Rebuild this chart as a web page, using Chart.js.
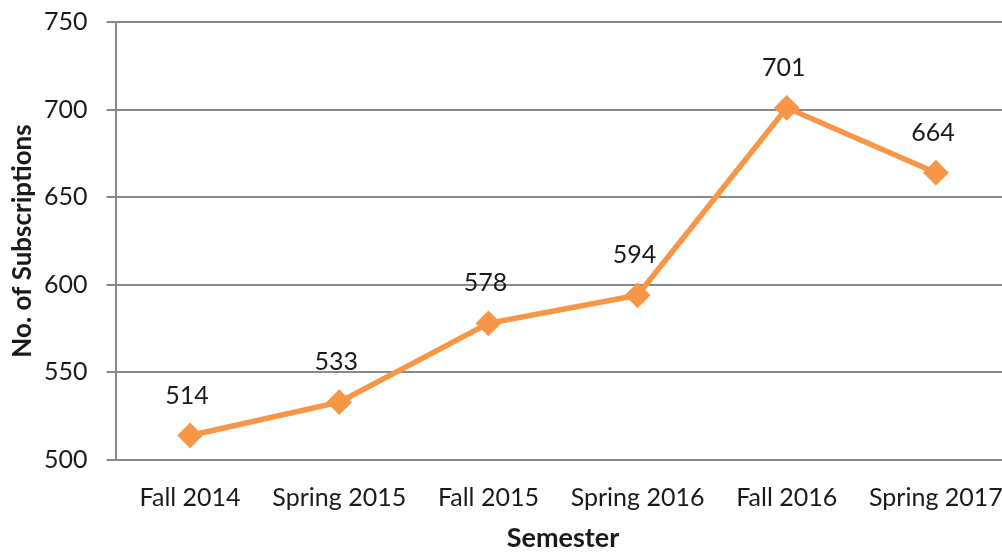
<!DOCTYPE html>
<html lang="en">
<head>
<meta charset="UTF-8">
<title>Subscriptions by Semester</title>
<style>
  html, body { margin: 0; padding: 0; overflow: hidden; background: #fff; }
  #wrap { width: 1027px; height: 552px; }
</style>
</head>
<body>
<div id="wrap"><canvas id="subsChart" width="1027" height="552"></canvas></div>
<script src="https://cdn.jsdelivr.net/npm/chart.js"></script>
<script>
  // data
  const semesters = ['Fall 2014', 'Spring 2015', 'Fall 2015', 'Spring 2016', 'Fall 2016', 'Spring 2017'];
  const subscriptions = [514, 533, 578, 594, 701, 664];
  const yTicks = [500, 550, 600, 650, 700, 750];

  const orange = '#F79646';
  const gridGray = '#898989';
  const textColor = '#1a1a1a';
  const fontFam = 'Lato, "Open Sans", sans-serif';

  // value labels above each point
  const valueLabels = {
    id: 'valueLabels',
    afterDatasetsDraw(chart) {
      const ctx = chart.ctx;
      const meta = chart.getDatasetMeta(0);
      ctx.save();
      ctx.font = '25px ' + fontFam;
      ctx.fillStyle = textColor;
      ctx.textAlign = 'center';
      ctx.textBaseline = 'middle';
      meta.data.forEach((pt, i) => {
        ctx.fillText(String(subscriptions[i]), pt.x - 3, pt.y - 40);
      });
      ctx.restore();
    }
  };

  new Chart(document.getElementById('subsChart'), {
    type: 'line',
    data: {
      labels: semesters,
      datasets: [{
        label: 'Subscriptions',
        data: subscriptions,
        borderColor: orange,
        backgroundColor: orange,
        borderWidth: 5.5,
        pointStyle: 'rectRot',
        pointRadius: 9,
        pointHoverRadius: 9,
        tension: 0
      }]
    },
    options: {
      responsive: false,
      animation: false,
      layout: { padding: { top: 0, right: 0, left: 10, bottom: 0 } },
      plugins: {
        legend: { display: false },
        tooltip: { enabled: false }
      },
      scales: {
        x: {
          offset: true,
          grid: { display: false, drawTicks: false },
          border: { display: true, color: gridGray, width: 2 },
          ticks: { color: textColor, font: { family: fontFam, size: 25 }, padding: 23, maxRotation: 0 },
          title: {
            display: true, text: 'Semester', color: textColor,
            font: { family: fontFam, size: 27, weight: 'bold', lineHeight: 1 }, padding: { top: -11, bottom: 0 }
          }
        },
        y: {
          min: 500,
          max: 750,
          afterBuildTicks(axis) { axis.ticks = yTicks.map(v => ({ value: v })); },
          afterFit(axis) { axis.paddingTop = 22; },
          grid: { color: gridGray, lineWidth: 2, tickLength: 9, drawTicks: true },
          border: { display: true, color: gridGray, width: 2 },
          ticks: { color: textColor, font: { family: fontFam, size: 25 }, padding: 19 },
          title: {
            display: true, text: 'No. of Subscriptions', color: textColor,
            font: { family: fontFam, size: 26, weight: 'bold', lineHeight: 1 }, padding: { top: 0, bottom: -11 }
          }
        }
      }
    },
    plugins: [valueLabels]
  });
</script>
</body>
</html>
